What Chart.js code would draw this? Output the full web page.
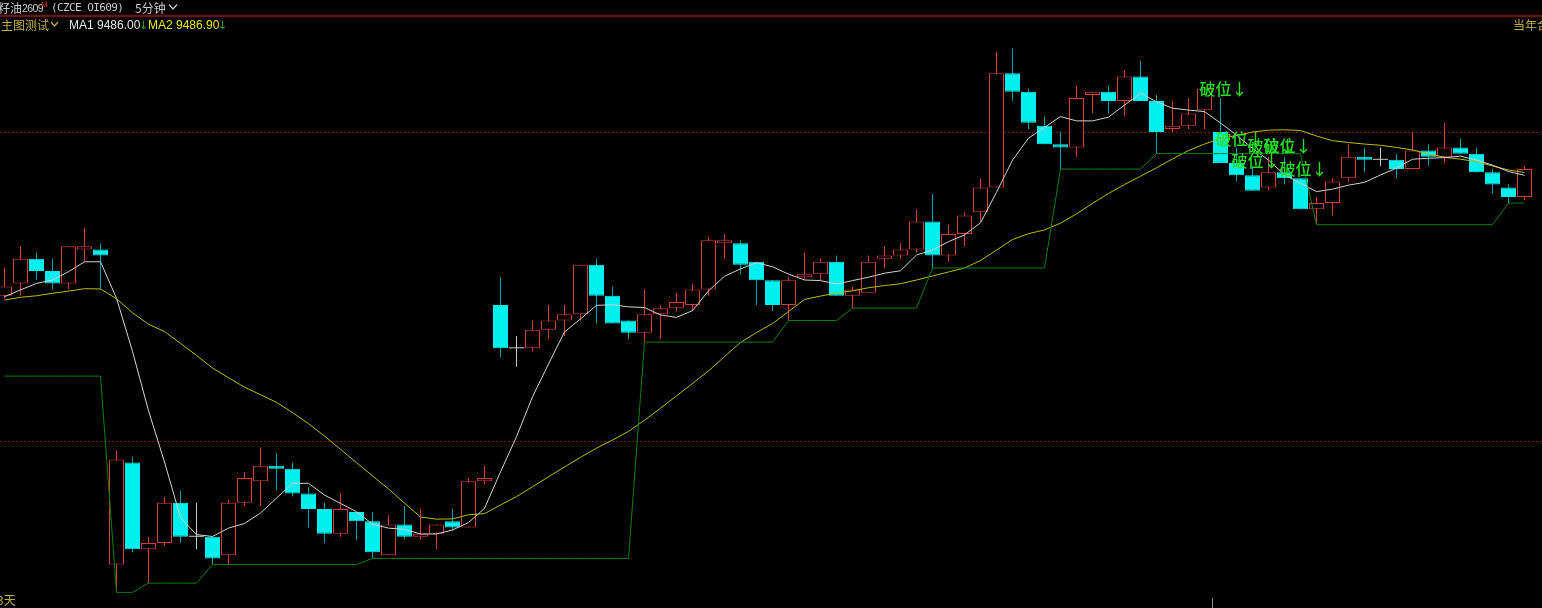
<!DOCTYPE html>
<html><head><meta charset="utf-8">
<script src="https://cdn.jsdelivr.net/npm/chart.js"></script>
<style>
html,body{margin:0;padding:0;background:#000;overflow:hidden;width:1542px;height:608px}
#wrap{position:relative;width:1542px;height:608px;overflow:hidden}
canvas{position:absolute;left:0;top:0}
.t{position:absolute;white-space:nowrap;font-family:"Liberation Sans",Arial,sans-serif;font-size:12px;line-height:16px}
.cjk{font-family:"Noto Sans CJK SC",sans-serif;font-size:12px}
.mono{font-family:"DejaVu Sans Mono",monospace;font-size:11px;letter-spacing:-0.6px}
.arr{font-family:"DejaVu Sans",sans-serif;font-size:11px;color:#19b019}
</style></head>
<body><div id="wrap">
<canvas id="c" width="1542" height="608"></canvas>
<div class="t cjk" style="left:-14px;top:0;color:#c8c8c8">菜籽油</div>
<div class="t" style="left:22px;top:0;color:#c8c8c8;font-size:10.5px;letter-spacing:-0.6px">2609</div>
<div class="t" style="left:41px;top:-3px;color:#e03030;font-size:8px">M</div>
<div class="t mono" style="left:51px;top:0;color:#c8c8c8">(CZCE OI609)</div>
<div class="t cjk" style="left:135px;top:0;color:#c8c8c8">5分钟</div>
<svg style="position:absolute;left:0;top:0" width="240" height="34"><polyline points="169,4.5 173,9 177,4.5" fill="none" stroke="#c8c8c8" stroke-width="1.2"/><polyline points="51,22 54.5,26 58,22" fill="none" stroke="#bfae48" stroke-width="1.2"/></svg>
<div style="position:absolute;left:0;top:15px;width:1542px;height:2px;background:#6e1010"></div>
<div class="t cjk" style="left:1px;top:17px;color:#bfae48">主图测试</div>
<div class="t" style="left:69px;top:17px;color:#e6e6e6">MA1 9486.00</div>
<div class="t arr" style="left:139px;top:18px">↓</div>
<div class="t" style="left:148px;top:17px;color:#e8e800">MA2 9486.90</div>
<div class="t arr" style="left:218px;top:18px">↓</div>
<div class="t cjk" style="left:1513px;top:17px;color:#bfae48">当年合约</div>
<div class="t cjk" style="left:-3px;top:592px;color:#bfae48">3天</div>
</div>
<script>
const opens  = [9447,9451,9459,9455,9451,9462,9462,9360,9393,9365,9367,9380,9369,9369,9363,9380,9387,9392,9391,9383,9378,9370,9377,9374,9363,9373,9369,9370,9374,9372,9387,9444,9430,9430,9436,9439,9441,9457,9447,9439,9435,9441,9443,9444,9449,9464,9464,9458,9452,9444,9453,9454,9458,9447,9448,9459,9460,9462,9471,9460,9467,9474,9482,9519,9513,9502,9496,9495,9512,9513,9510,9518,9510,9501,9502,9507,9500,9490,9486,9482,9487,9485,9475,9477,9485,9492,9491,9491,9488,9494,9492,9495,9493,9487,9482,9479];
const highs  = [9456,9463,9461,9459,9463,9469,9464,9397,9395,9369,9382,9384,9380,9369,9381,9390,9398,9396,9393,9385,9380,9383,9377,9377,9376,9379,9378,9373,9378,9388,9392,9453,9434,9439,9444,9444,9457,9459,9450,9439,9449,9444,9448,9451,9466,9467,9465,9458,9452,9453,9461,9459,9460,9450,9460,9463,9464,9475,9480,9470,9474,9485,9526,9527,9514,9505,9500,9515,9513,9515,9520,9523,9512,9510,9511,9514,9511,9495,9489,9492,9492,9485,9479,9485,9496,9495,9495,9493,9500,9496,9503,9498,9495,9488,9483,9489];
const lows   = [9446,9447,9452,9449,9449,9458,9449,9351,9364,9354,9366,9367,9365,9360,9360,9379,9379,9384,9382,9372,9367,9369,9368,9362,9363,9368,9368,9365,9371,9372,9386,9427,9424,9429,9433,9434,9439,9438,9438,9433,9432,9433,9442,9442,9447,9459,9454,9444,9442,9439,9452,9452,9447,9443,9448,9456,9459,9461,9456,9458,9463,9471,9482,9510,9501,9496,9488,9492,9506,9506,9505,9510,9493,9500,9501,9501,9490,9484,9481,9481,9483,9475,9470,9473,9484,9487,9489,9485,9488,9489,9490,9493,9487,9480,9477,9478];
const closes = [9450,9459,9455,9451,9463,9463,9460,9394,9365,9367,9380,9369,9369,9362,9380,9388,9392,9391,9383,9378,9370,9378,9374,9364,9373,9369,9370,9373,9372,9387,9388,9430,9430,9436,9439,9441,9457,9447,9438,9435,9441,9443,9445,9449,9465,9465,9457,9452,9444,9452,9454,9458,9447,9449,9458,9460,9462,9471,9460,9467,9473,9482,9519,9513,9503,9496,9495,9511,9513,9510,9518,9510,9500,9502,9506,9514,9490,9486,9481,9487,9485,9475,9477,9484,9492,9491,9491,9488,9494,9492,9495,9493,9487,9483,9479,9488];
const ma1 = [9446.7,9448.9,9451.0,9452.1,9454.8,9458.0,9458.0,9446.2,9429.0,9409.8,
9393.2,9375.2,9369.7,9369.1,9371.8,9373.3,9376.7,9381.5,9386.3,9386.3,
9382.5,9379.8,9377.1,9373.1,9371.8,9371.4,9369.9,9369.9,9371.2,9373.6,
9378.2,9390.0,9401.4,9414.3,9424.9,9435.3,9439.5,9443.9,9444.1,9443.4,
9443.2,9440.8,9440.0,9442.2,9448.6,9453.3,9455.7,9457.7,9456.4,9454.0,
9452.1,9451.9,9450.8,9451.9,9453.0,9454.3,9455.1,9460.2,9461.8,9464.5,
9466.7,9470.6,9480.5,9490.9,9498.0,9501.5,9505.0,9503.6,9503.6,9504.8,
9508.7,9512.5,9509.8,9507.7,9507.1,9506.6,9502.9,9499.0,9494.7,9490.9,
9486.1,9483.4,9480.7,9481.5,9482.8,9483.7,9486.1,9488.3,9491.2,9491.5,
9491.7,9492.2,9490.9,9489.3,9487.2,9486.0];
const ma2 = [9445.6,9446.5,9447.0,9447.8,9448.5,9449.3,9449.2,9446.0,9441.5,9437.8,
9435.4,9431.6,9427.7,9423.6,9420.5,9417.4,9415.0,9412.5,9409.2,9405.6,
9401.6,9397.3,9393.0,9388.7,9384.5,9379.9,9375.4,9374.7,9374.8,9376.1,
9376.5,9379.3,9382.0,9385.2,9388.4,9391.6,9394.7,9397.7,9400.3,9403.1,
9406.7,9410.6,9414.6,9418.6,9422.7,9427.3,9431.9,9435.1,9438.0,9441.9,
9445.8,9446.9,9447.9,9448.6,9449.6,9450.3,9450.9,9452.1,9453.4,9454.7,
9456.0,9458.4,9461.8,9465.2,9467.1,9468.3,9470.5,9473.5,9476.9,9480.1,
9483.0,9485.7,9488.4,9491.3,9494.0,9496.1,9497.9,9498.9,9500.0,9500.6,
9500.7,9500.5,9498.7,9497.2,9496.6,9496.1,9495.7,9495.0,9494.2,9492.9,
9491.8,9491.2,9490.4,9489.0,9487.7,9486.9];
const support = [9421,9421,9421,9421,9421,9421,9421,9351,9351,9354,
9354,9354,9354,9360,9360,9360,9360,9360,9360,9360,
9360,9360,9360,9362,9362,9362,9362,9362,9362,9362,
9362,9362,9362,9362,9362,9362,9362,9362,9362,9362,
9432,9432,9432,9432,9432,9432,9432,9432,9432,9439,
9439,9439,9439,9443,9443,9443,9443,9443,9456,9456,
9456,9456,9456,9456,9456,9456,9488,9488,9488,9488,
9488,9488,9493,9493,9493,9493,9493,9493,9493,9493,
9493,9493,9470,9470,9470,9470,9470,9470,9470,9470,
9470,9470,9470,9470,9477,9477];
const gridLevels = [9500, 9400];
const signalIdx = [75, 76, 77, 78, 79, 80];
const signalPrice = [9513.8, 9497.8, 9490.6, 9495.5, 9495.5, 9488.0];
const signalText = '破位↓';
const sessionMark = 75.5;

const RED = '#d83a3a', CYAN = '#00f0f0', CYANW = '#00a0a0', GREY = '#c8c8c8';
const dir = closes.map((c, i) => c > opens[i] ? 1 : (c < opens[i] ? -1 : 0));
const pts = arr => arr.map((v, i) => ({x: i, y: v}));

const overlay = {
  id: 'overlay',
  beforeDatasetsDraw(chart) {
    const {ctx, chartArea, scales} = chart;
    ctx.save();
    ctx.strokeStyle = '#701616';
    ctx.lineWidth = 1;
    ctx.setLineDash([2, 2]);
    gridLevels.forEach(v => {
      const y = Math.round(scales.y.getPixelForValue(v)) + 0.5;
      ctx.beginPath(); ctx.moveTo(chartArea.left, y); ctx.lineTo(chartArea.right, y); ctx.stroke();
    });
    ctx.setLineDash([]);
    ctx.strokeStyle = '#8a8a8a';
    const xs = scales.x.getPixelForValue(sessionMark);
    ctx.beginPath(); ctx.moveTo(xs, chartArea.bottom - 10); ctx.lineTo(xs, chartArea.bottom); ctx.stroke();
    ctx.restore();
  },
  afterDatasetsDraw(chart) {
    const {ctx, scales} = chart;
    ctx.save();
    ctx.font = '500 16px "Noto Sans CJK SC"';
    ctx.fillStyle = '#24e024';
    ctx.textBaseline = 'middle';
    ctx.textAlign = 'left';
    signalIdx.forEach((ix, k) => {
      const x = scales.x.getPixelForValue(ix) - 5;
      const y = scales.y.getPixelForValue(signalPrice[k]);
      ctx.fillText(signalText, x, y);
    });
    ctx.restore();
  }
};

new Chart(document.getElementById('c'), {
  type: 'bar',
  data: {
    datasets: [
      {type: 'line', data: pts(support), borderColor: '#0a800a', borderWidth: 1, pointRadius: 0, tension: 0},
      {type: 'line', data: pts(ma1), borderColor: '#d2d2d2', borderWidth: 1, pointRadius: 0, tension: 0},
      {type: 'line', data: pts(ma2), borderColor: '#bcbc00', borderWidth: 1, pointRadius: 0, tension: 0},
      {type: 'bar', data: opens.map((o, i) => ({x: i, y: [o, closes[i]]})), grouped: false, barThickness: 15,
        minBarLength: 1, borderSkipped: false, inflateAmount: 0,
        backgroundColor: dir.map(d => d > 0 ? '#000000' : (d < 0 ? CYAN : GREY)),
        borderColor: dir.map(d => d > 0 ? RED : (d < 0 ? CYAN : GREY)),
        borderWidth: dir.map(d => d === 0 ? 0 : 1)},
      {type: 'bar', data: lows.map((l, i) => ({x: i, y: [l, highs[i]]})), grouped: false, barThickness: 1,
        borderWidth: 0, borderSkipped: false, inflateAmount: 0,
        backgroundColor: dir.map(d => d > 0 ? RED : (d < 0 ? CYANW : GREY))}
    ]
  },
  options: {
    responsive: false, animation: false, events: [],
    layout: {padding: 0},
    plugins: {legend: {display: false}, tooltip: {enabled: false}},
    scales: {
      x: {type: 'linear', display: false, offset: false, min: -0.28125, max: 96.09375, grid: {display: false}},
      y: {type: 'linear', display: false, min: 9345.95, max: 9542.72, grid: {display: false}}
    }
  },
  plugins: [overlay]
});
</script>
</body></html>
